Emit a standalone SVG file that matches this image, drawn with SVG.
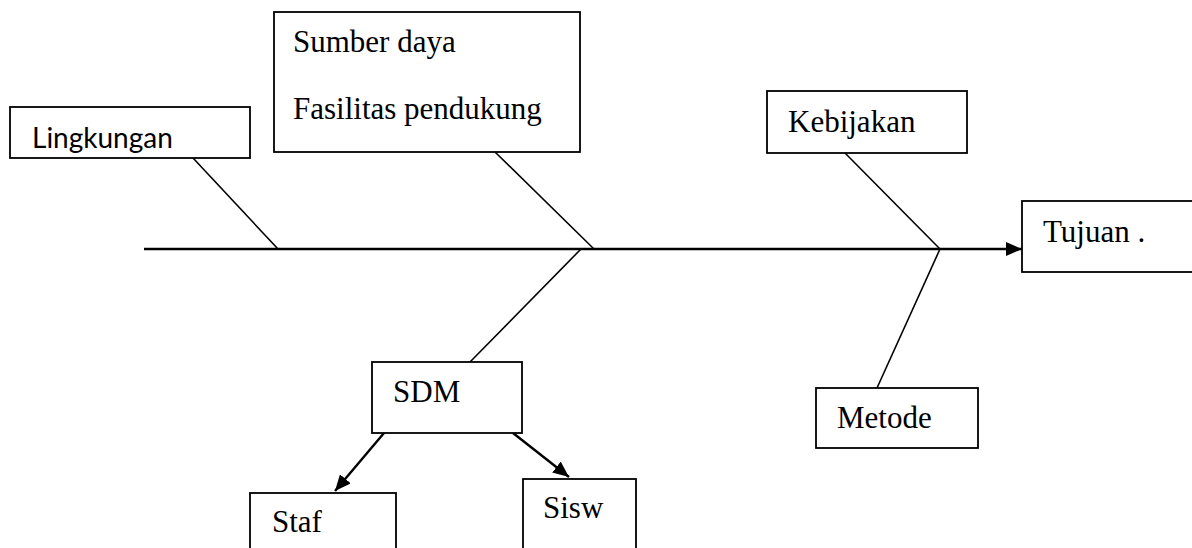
<svg xmlns="http://www.w3.org/2000/svg" width="1192" height="548" viewBox="0 0 1192 548">
<style>
.box{fill:#fff;stroke:#000;stroke-width:1.8}
.t{font-family:"Liberation Serif","Times New Roman",serif;font-size:31px;fill:#000}
.s{font-family:Lato,"Open Sans",sans-serif;font-size:28px;fill:#000}
.ln{stroke:#000;stroke-width:1.6;fill:none}
.main{stroke:#000;stroke-width:2.6;fill:none}
.arr{stroke:#000;stroke-width:2.4;fill:none}
</style>
<defs>
<marker id="ah" markerUnits="userSpaceOnUse" viewBox="0 0 16 14" refX="16" refY="7" markerWidth="16" markerHeight="14" orient="auto">
<path d="M0,0 L16,7 L0,14 z" fill="#000"/>
</marker>
</defs>
<g id="connectors">
<line class="main" x1="144" y1="249" x2="1022" y2="249" marker-end="url(#ah)"/>
<line class="ln" x1="193" y1="158" x2="278" y2="249"/>
<line class="ln" x1="495" y1="152" x2="594" y2="249"/>
<line class="ln" x1="581" y1="249" x2="470" y2="362"/>
<line class="ln" x1="845" y1="153" x2="940" y2="249"/>
<line class="ln" x1="940" y1="249" x2="877" y2="388"/>
<line class="arr" x1="384" y1="433" x2="335" y2="491" marker-end="url(#ah)"/>
<line class="arr" x1="513" y1="433" x2="569" y2="477" marker-end="url(#ah)"/>
</g>
<g id="lingkungan">
<rect class="box" x="10" y="107" width="240" height="51"/>
<text class="s" x="32" y="148">Lingkungan</text>
</g>
<g id="sumber-daya">
<rect class="box" x="274" y="12" width="306" height="140"/>
<text class="t" x="293" y="52">Sumber daya</text>
<text class="t" x="293" y="119">Fasilitas pendukung</text>
</g>
<g id="kebijakan">
<rect class="box" x="767" y="91" width="200" height="62"/>
<text class="t" x="788" y="132">Kebijakan</text>
</g>
<g id="tujuan">
<rect class="box" x="1022" y="201" width="190" height="71"/>
<text class="t" x="1043" y="242">Tujuan .</text>
</g>
<g id="metode">
<rect class="box" x="816" y="388" width="162" height="60"/>
<text class="t" x="837" y="428">Metode</text>
</g>
<g id="sdm">
<rect class="box" x="372" y="362" width="150" height="71"/>
<text class="t" x="393" y="402">SDM</text>
</g>
<g id="staf">
<rect class="box" x="250" y="493" width="146" height="70"/>
<text class="t" x="272" y="532">Staf</text>
</g>
<g id="sisw">
<rect class="box" x="523" y="479" width="113" height="80"/>
<text class="t" x="543" y="518">Sisw</text>
</g>
</svg>
